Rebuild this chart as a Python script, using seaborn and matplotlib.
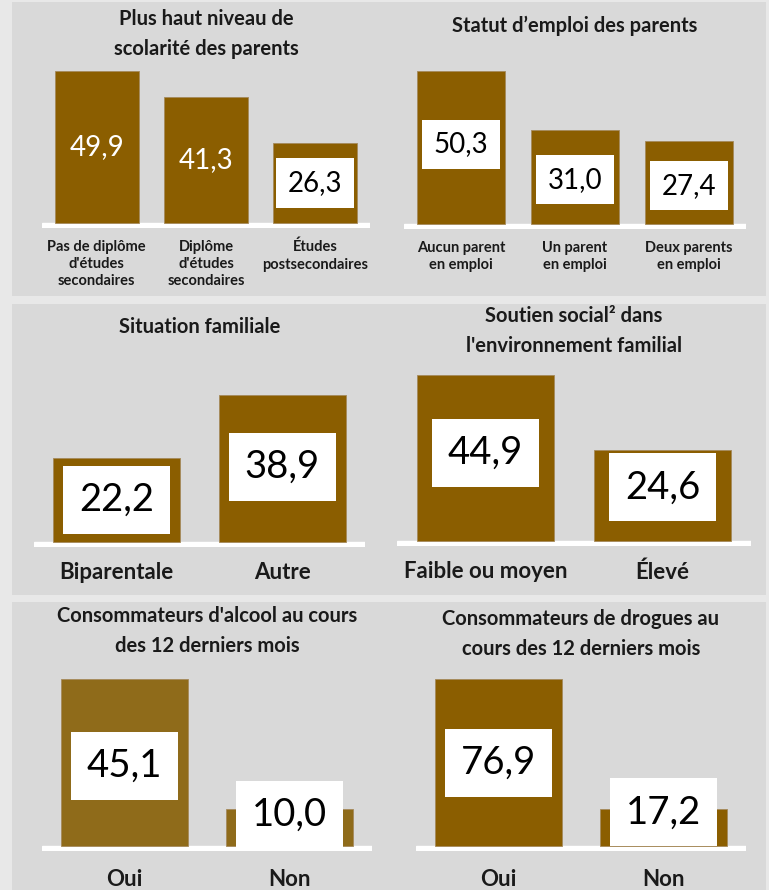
import matplotlib
matplotlib.use("Agg")
import matplotlib.pyplot as plt
from matplotlib.patches import Rectangle
import seaborn as sns

# data
scolarite_cats = ["Pas de diplôme\nd'études\nsecondaires", "Diplôme\nd'études\nsecondaires",
                  "Études\npostsecondaires"]
scolarite_vals = [49.9, 41.3, 26.3]

emploi_cats = ["Aucun parent\nen emploi", "Un parent\nen emploi", "Deux parents\nen emploi"]
emploi_vals = [50.3, 31.0, 27.4]

famille_cats = ["Biparentale", "Autre"]
famille_vals = [22.2, 38.9]

soutien_cats = ["Faible ou moyen", "Élevé"]
soutien_vals = [44.9, 24.6]

oui_non_cats = ["Oui", "Non"]
alcool_vals = [45.1, 10.0]
drogues_vals = [76.9, 17.2]

titles = ["Plus haut niveau de\nscolarité des parents",
          "Statut d\u2019emploi des parents",
          "Situation familiale",
          "Soutien social\u00b2 dans\nl'environnement familial",
          "Consommateurs d'alcool au cours\ndes 12 derniers mois",
          "Consommateurs de drogues au\ncours des 12 derniers mois"]

BROWN = "#8b5e00"
W, H = 769, 890

sns.set_style("white")
plt.rcParams['font.family'] = ['Lato', 'DejaVu Sans']

fig = plt.figure(figsize=(W / 100, H / 100), dpi=100)
fig.set_facecolor("#e8e8e8")

# grey row panels (pixel coords: x, y_top, w, h)
for x0, y0, w, h in [(12, 2, 754, 294), (12, 304, 754, 291), (12, 602, 754, 290)]:
    fig.patches.append(Rectangle((x0 / W, 1 - (y0 + h) / H), w / W, h / H,
                                 transform=fig.transFigure, facecolor="#d9d9d9",
                                 edgecolor="none", zorder=-10))

# layout: left, right, baseline, ymax, px per unit, title y, value fontsize, tick fontsize, tick pad
panels = [
    (scolarite_cats, scolarite_vals, 42, 370, 223, 55, 3.05, 34, 20, 10.5, 8.5,
     [0.5, 0.5, 0.5], [False, False, True], BROWN),
    (emploi_cats, emploi_vals, 404, 746, 224, 55, 3.04, 26, 20, 10.5, 8.5,
     [0.52, 0.47, 0.46], [True, True, True], BROWN),
    (famille_cats, famille_vals, 34, 365, 542, 45, 3.78, 327, 27.5, 16, 11,
     [0.5, 0.51], [True, True], BROWN),
    (soutien_cats, soutien_vals, 397, 751, 541, 50, 3.7, 331, 27.5, 16, 11,
     [0.53, 0.59], [True, True], BROWN),
    (oui_non_cats, alcool_vals, 42, 372, 846, 50, 3.7, 631, 27.5, 16, 13,
     [0.48, 0.84], [True, True], "#8f6b1a"),
    (oui_non_cats, drogues_vals, 416, 746, 846, 85, 2.17, 634, 27.5, 16, 13,
     [0.5, 0.9], [True, True], BROWN),
]

for i, (cats, vals, left, right, base, ymax, scale, ty, vfs, tfs, tpad,
        lpos, boxed, color) in enumerate(panels):
    line = 5
    top = base - ymax * scale
    bottom = base + line
    ax = fig.add_axes([left / W, 1 - bottom / H, (right - left) / W, (bottom - top) / H])
    ax.set_facecolor("none")
    ax.set_zorder(2)
    sns.barplot(x=cats, y=vals, order=cats, color=color, saturation=1, width=0.77,
                edgecolor="#a58a5c", linewidth=0.6, ax=ax, zorder=2)
    ax.axhspan(-line / scale, 0, color="white", zorder=1)
    ax.set_xlim(-0.5, len(cats) - 0.5)
    ax.set_ylim(-line / scale, ymax)
    ax.set_yticks([])
    ax.set_xlabel("")
    ax.set_ylabel("")
    ax.tick_params(axis="x", length=0, pad=tpad, labelsize=tfs)
    for lab in ax.get_xticklabels():
        lab.set_fontweight("bold")
        lab.set_color("#1a1a1a")
        lab.set_linespacing(1.3)
    sns.despine(ax=ax, left=True, bottom=True)

    for j, v in enumerate(vals):
        txt = f"{v:.1f}".replace(".", ",")
        if boxed[j]:
            ax.text(j, v * lpos[j], txt, ha="center", va="center", fontsize=vfs,
                    color="black", zorder=4,
                    bbox=dict(boxstyle="square,pad=0.42", facecolor="white", edgecolor="none"))
        else:
            ax.text(j, v * lpos[j], txt, ha="center", va="center", fontsize=vfs,
                    color="white", zorder=4)

    fig.text((left + right) / 2 / W, 1 - ty / H, titles[i], ha="center", va="center",
             fontsize=14.5, fontweight="bold", color="#1a1a1a", linespacing=1.6)

fig.savefig("out.png", dpi=100, facecolor=fig.get_facecolor())
